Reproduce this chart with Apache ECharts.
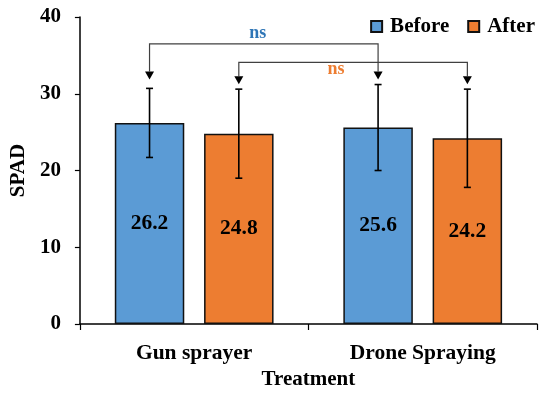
<!DOCTYPE html>
<html><head><meta charset="utf-8">
<script src="https://cdn.jsdelivr.net/npm/echarts@6/dist/echarts.min.js"></script>
<style>html,body{margin:0;padding:0;background:#fff}#c{width:550px;height:397px}</style>
</head><body><div id="c"></div>
<script>
var categories = ['Gun sprayer', 'Drone Spraying'];
var seriesNames = ['Before', 'After'];
var beforeValues = [26.2, 25.6];
var afterValues = [24.8, 24.2];
var beforeErr = [4.5, 5.6];
var afterErr = [5.8, 6.4];
var yTicks = [0, 10, 20, 30, 40];
// brackets between bars: [category, series]
var bracketFrom = [[0, 0], [0, 1]];
var bracketTo = [[1, 0], [1, 1]];
var bracketLevel = [36.5, 34.1];
var bracketLabel = ['ns', 'ns'];

var FONT = '"Liberation Serif", "Times New Roman", serif';
var BLUE = '#5B9BD5', ORANGE = '#ED7D31';
var BAR_W = 0.304, GAP = 0.285;
var values = [beforeValues, afterValues];
var errs = [beforeErr, afterErr];

function barOffset(api, s) {
  var band = api.size([1, 0])[0];
  var off = band * (BAR_W + BAR_W * GAP) / 2;
  return s === 0 ? -off : off;
}

var errData = [];
for (var s = 0; s < 2; s++) for (var i = 0; i < categories.length; i++)
  errData.push([i, values[s][i] - errs[s][i], values[s][i] + errs[s][i], s]);

var brData = bracketFrom.map(function (f, k) {
  return [f[0], f[1], bracketTo[k][0], bracketTo[k][1], bracketLevel[k], k];
});

var labelStyle = { show: true, position: 'inside', fontFamily: FONT, fontWeight: 'bold', fontSize: 21.5, color: '#000' };

var chart = echarts.init(document.getElementById('c'));
chart.setOption({
  animation: false,
  textStyle: { fontFamily: FONT },
  grid: { left: 76, right: 13, top: 17, bottom: 73 },
  legend: {
    right: 10, top: 11, itemWidth: 11, itemHeight: 11, itemGap: 18,
    data: seriesNames,
    textStyle: { fontFamily: FONT, fontWeight: 'bold', fontSize: 21, color: '#000', padding: [0, 0, 0, 3] },
    icon: 'rect'
  },
  xAxis: {
    type: 'category', data: categories,
    name: 'Treatment', nameLocation: 'middle', nameGap: 44,
    nameTextStyle: { fontFamily: FONT, fontWeight: 'bold', fontSize: 21, color: '#000' },
    axisLine: { lineStyle: { color: '#000', width: 1.5 } },
    axisTick: { show: true, length: 6, lineStyle: { color: '#000', width: 1.2 } },
    axisLabel: { fontFamily: FONT, fontWeight: 'bold', fontSize: 21.5, color: '#000', margin: 18 }
  },
  yAxis: {
    type: 'value', min: yTicks[0], max: yTicks[yTicks.length - 1], interval: 10,
    name: 'SPAD', nameLocation: 'middle', nameGap: 48,
    nameTextStyle: { fontFamily: FONT, fontWeight: 'bold', fontSize: 21, color: '#000' },
    axisLine: { show: true, lineStyle: { color: '#000', width: 1.5 } },
    axisTick: { show: true, length: 5, lineStyle: { color: '#000', width: 1.2 } },
    splitLine: { show: false },
    axisLabel: { fontFamily: FONT, fontWeight: 'bold', fontSize: 21, color: '#000', margin: 19 }
  },
  series: [
    {
      name: seriesNames[0], type: 'bar', data: beforeValues,
      barWidth: (BAR_W * 100) + '%', barGap: (GAP * 100) + '%',
      itemStyle: { color: BLUE, borderColor: '#111', borderWidth: 1.5 },
      label: labelStyle
    },
    {
      name: seriesNames[1], type: 'bar', data: afterValues,
      barWidth: (BAR_W * 100) + '%', barGap: (GAP * 100) + '%',
      itemStyle: { color: ORANGE, borderColor: '#111', borderWidth: 1.5 },
      label: labelStyle
    },
    {
      type: 'custom', data: errData, z: 5, silent: true,
      renderItem: function (params, api) {
        var i = api.value(0), s = api.value(3);
        var lo = api.coord([i, api.value(1)]);
        var hi = api.coord([i, api.value(2)]);
        var x = lo[0] + barOffset(api, s);
        var cw = 3.5;
        var st = { stroke: '#000', lineWidth: 1.6 };
        return { type: 'group', children: [
          { type: 'line', shape: { x1: x, y1: lo[1], x2: x, y2: hi[1] }, style: st },
          { type: 'line', shape: { x1: x - cw, y1: lo[1], x2: x + cw, y2: lo[1] }, style: st },
          { type: 'line', shape: { x1: x - cw, y1: hi[1], x2: x + cw, y2: hi[1] }, style: st }
        ] };
      }
    },
    {
      type: 'custom', data: brData, z: 6, silent: true,
      renderItem: function (params, api) {
        var c1 = api.value(0), s1 = api.value(1), c2 = api.value(2), s2 = api.value(3);
        var lvl = api.value(4), k = api.value(5);
        var xA = api.coord([c1, 0])[0] + barOffset(api, s1);
        var xB = api.coord([c2, 0])[0] + barOffset(api, s2);
        var tA = api.coord([c1, values[s1][c1] + errs[s1][c1]])[1] - 5;
        var tB = api.coord([c2, values[s2][c2] + errs[s2][c2]])[1] - 5;
        var tip = Math.min(tA, tB);
        var yL = api.coord([c1, lvl])[1];
        var ah = 8, aw = 4.5;
        var st = { stroke: '#404040', lineWidth: 1.2, fill: null };
        var col = k === 0 ? '#2E75B6' : ORANGE;
        var midX = (xA + xB) / 2 + (k === 0 ? -6 : -17);
        return { type: 'group', children: [
          { type: 'polyline', shape: { points: [[xA, tip - ah], [xA, yL], [xB, yL], [xB, tip - ah]] }, style: st },
          { type: 'polygon', shape: { points: [[xA - aw, tip - ah], [xA + aw, tip - ah], [xA, tip]] }, style: { fill: '#000' } },
          { type: 'polygon', shape: { points: [[xB - aw, tip - ah], [xB + aw, tip - ah], [xB, tip]] }, style: { fill: '#000' } },
          { type: 'text', x: midX, y: k === 0 ? yL - 11 : yL + 7,
            style: { text: bracketLabel[k], fill: col, font: 'bold 18px ' + FONT, align: 'center', verticalAlign: 'middle' } }
        ] };
      }
    }
  ]
});
</script></body></html>
